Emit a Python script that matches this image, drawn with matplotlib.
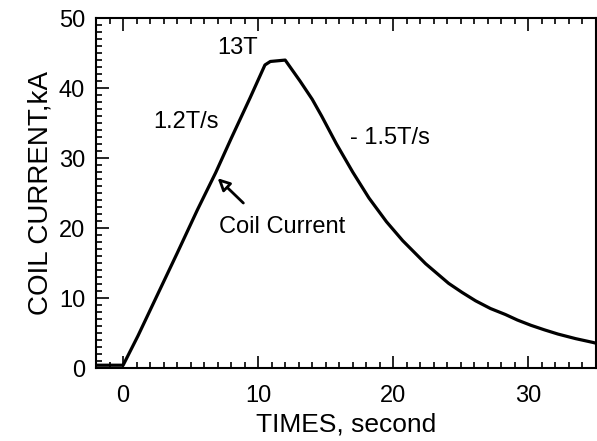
import numpy as np
import matplotlib
matplotlib.use('Agg')
import matplotlib.pyplot as plt
from matplotlib.ticker import MultipleLocator

plt.rcParams['font.family'] = ['Liberation Sans', 'DejaVu Sans']

# coil current trace (time in s, current in kA)
time_s = [-2.0, -1.0, 0.0, 1.1, 2.5, 4.0, 5.5, 6.85, 8.0, 9.4, 10.5, 10.9, 12.0,
          13.1, 14.0, 14.7, 15.8, 17.0, 18.2, 19.5, 20.7, 22.4, 24.1, 25.1, 26.1,
          27.2, 28.3, 29.2, 30.2, 31.2, 32.2, 33.5, 34.8, 35.0]
current_ka = [0.4, 0.4, 0.4, 4.6, 10.3, 16.4, 22.6, 27.9, 32.8, 38.6, 43.3, 43.8, 44.0,
              41.0, 38.4, 36.0, 32.0, 28.0, 24.3, 20.9, 18.2, 14.9, 12.1, 10.8, 9.6,
              8.5, 7.65, 6.85, 6.1, 5.45, 4.85, 4.2, 3.65, 3.55]

fig = plt.figure(figsize=(5.97, 4.41), dpi=100)
ax = fig.add_axes([0.161, 0.1655, 0.837, 0.7935])

ax.plot(time_s, current_ka, color='black', lw=2.3)

ax.set_xlim(-2, 35)
ax.set_ylim(0, 50)
ax.xaxis.set_major_locator(MultipleLocator(10))
ax.xaxis.set_minor_locator(MultipleLocator(1))
ax.yaxis.set_major_locator(MultipleLocator(10))
ax.yaxis.set_minor_locator(MultipleLocator(1))
ax.tick_params(which='both', direction='in', top=True, right=False, width=1.2)
ax.tick_params(which='major', length=9, labelsize=17)
ax.tick_params(axis='x', which='major', pad=12)
ax.tick_params(axis='y', which='major', pad=8)
ax.tick_params(which='minor', length=4)
for s in ax.spines.values():
    s.set_linewidth(1.5)

ax.set_xlabel('TIMES, second', fontsize=19, labelpad=4)
ax.set_ylabel('COIL CURRENT,kA', fontsize=20, labelpad=4)

ax.text(7.0, 45.7, '13T', fontsize=17, va='center', ha='left')
ax.text(2.2, 35.1, '1.2T/s', fontsize=17, va='center', ha='left')
ax.text(16.8, 32.9, '- 1.5T/s', fontsize=17, va='center', ha='left')
ax.annotate('Coil Current', xy=(6.85, 27.4), xytext=(7.1, 20.2), fontsize=17,
            va='center', ha='left')
ax.annotate('', xy=(6.85, 27.4), xytext=(9.05, 23.3),
            arrowprops=dict(arrowstyle='-|>', fc='white', ec='black', lw=2,
                            mutation_scale=18))

fig.savefig('out.png', dpi=100)
